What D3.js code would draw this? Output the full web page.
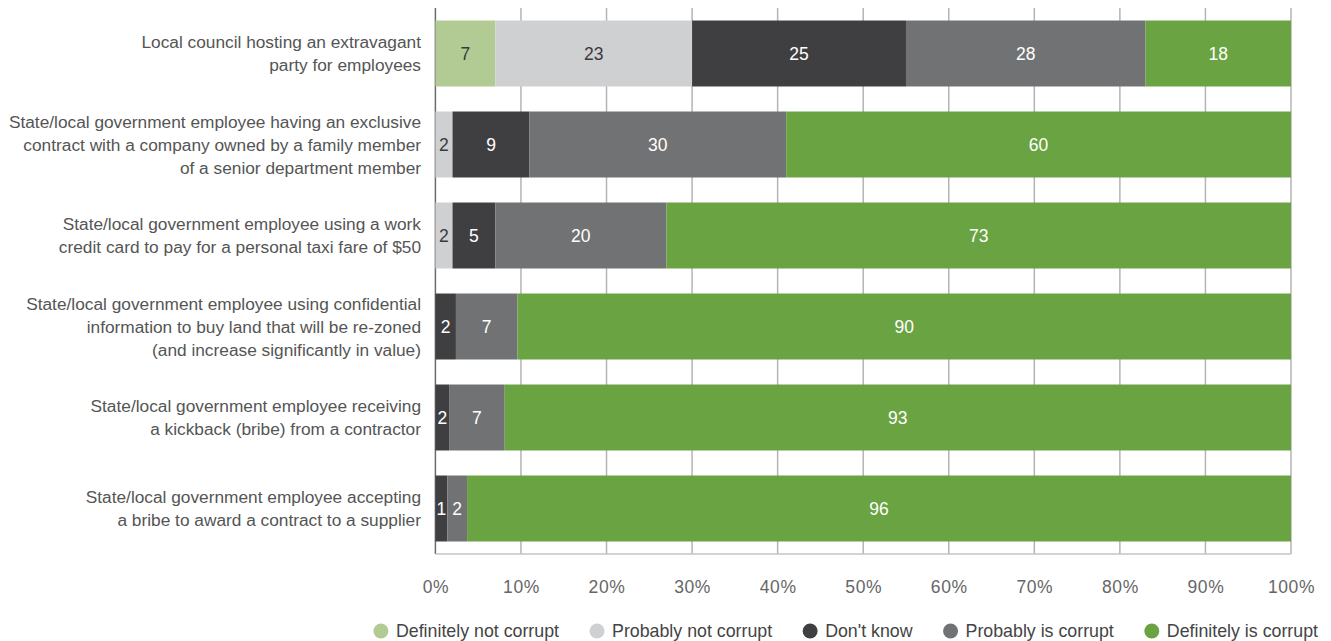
<!DOCTYPE html>
<html>
<head>
<meta charset="utf-8">
<script src="https://cdn.jsdelivr.net/npm/d3@7"></script>
<style>
  html, body { margin: 0; padding: 0; background: #fff; }
  svg { display: block; font-family: "Liberation Sans", Arial, Helvetica, sans-serif; }
</style>
</head>
<body>
<svg id="chart" width="1331" height="641"></svg>
<script>
// Survey items (label lines for each bar)
const categories = [
  ["Local council hosting an extravagant", "party for employees"],
  ["State/local government employee having an exclusive", "contract with a company owned by a family member", "of a senior department member"],
  ["State/local government employee using a work", "credit card to pay for a personal taxi fare of $50"],
  ["State/local government employee using confidential", "information to buy land that will be re-zoned", "(and increase significantly in value)"],
  ["State/local government employee receiving", "a kickback (bribe) from a contractor"],
  ["State/local government employee accepting", "a bribe to award a contract to a supplier"]
];

const seriesNames = ["Definitely not corrupt", "Probably not corrupt", "Don't know", "Probably is corrupt", "Definitely is corrupt"];

// Percent of respondents, one array per response, in category order
const definitelyNot = [7, 0, 0, 0, 0, 0];
const probablyNot   = [23, 2, 2, 0, 0, 0];
const dontKnow      = [25, 9, 5, 2.4, 1.6, 1.4];
const probablyIs    = [28, 30, 20, 7.2, 6.5, 2.3];
const definitelyIs  = [18, 60, 73, 90.4, 92.5, 96.3];

const xTicks = [0, 10, 20, 30, 40, 50, 60, 70, 80, 90, 100];

const colors = ["#b2ca93", "#cfd0d2", "#3f3f41", "#717274", "#6aa342"];
const labelColors = ["#3a3a3a", "#3a3a3a", "#ffffff", "#ffffff", "#ffffff"];

const seriesValues = [definitelyNot, probablyNot, dontKnow, probablyIs, definitelyIs];
const rows = categories.map((c, i) => {
  const r = { idx: i };
  seriesNames.forEach((s, k) => { r[s] = seriesValues[k][i]; });
  return r;
});

const svg = d3.select("#chart");
const plotLeft = 435.4, plotRight = 1291, plotTop = 8, plotBottom = 554;

const x = d3.scaleLinear().domain([0, 100]).range([plotLeft, plotRight]).clamp(true);
const y = d3.scaleBand().domain(d3.range(categories.length)).range([plotTop, plotBottom])
  .paddingInner(0.275).paddingOuter(0.1375);

// Vertical grid lines
const grid = svg.append("g");
grid.selectAll("line").data(xTicks).join("line")
  .attr("x1", d => x(d)).attr("x2", d => x(d))
  .attr("y1", plotTop).attr("y2", plotBottom)
  .attr("stroke", d => d === 0 ? "#6b6b6b" : "#b4b4b6")
  .attr("stroke-width", 1.5);
grid.append("line")
  .attr("x1", x(0)).attr("x2", x(100))
  .attr("y1", plotBottom).attr("y2", plotBottom)
  .attr("stroke", "#c4c4c6").attr("stroke-width", 1.5);

// Stacked bars
const stack = d3.stack().keys(seriesNames);
const layers = stack(rows);

const barG = svg.append("g");
layers.forEach((layer, k) => {
  const g = barG.append("g").attr("fill", colors[k]);
  const segs = layer.filter(d => d.data[seriesNames[k]] > 0);
  g.selectAll("rect").data(segs).join("rect")
    .attr("x", d => x(d[0]))
    .attr("y", d => y(d.data.idx))
    .attr("width", d => Math.max(0, x(d[1]) - x(d[0])))
    .attr("height", y.bandwidth());
  g.selectAll("text").data(segs).join("text")
    .attr("x", d => (x(d[0]) + x(d[1])) / 2)
    .attr("y", d => y(d.data.idx) + y.bandwidth() / 2)
    .attr("dy", "0.36em")
    .attr("text-anchor", "middle")
    .attr("font-size", 17.5)
    .attr("fill", labelColors[k])
    .text(d => Math.round(d.data[seriesNames[k]]));
});

// Category labels
const lineH = 23;
const catG = svg.append("g");
categories.forEach((lines, i) => {
  const cy = y(i) + y.bandwidth() / 2;
  const t = catG.append("text")
    .attr("text-anchor", "end")
    .attr("font-size", 17.3)
    .attr("fill", "#555");
  lines.forEach((ln, j) => {
    t.append("tspan")
      .attr("x", 421)
      .attr("y", cy + (j - (lines.length - 1) / 2) * lineH)
      .attr("dy", "0.36em")
      .text(ln);
  });
});

// X axis
const axis = d3.axisBottom(x).tickValues(xTicks).tickFormat(d => d + "%")
  .tickSize(0).tickPadding(27);
const axG = svg.append("g").attr("transform", `translate(0,${plotBottom})`).call(axis);
axG.select(".domain").remove();
axG.selectAll("text")
  .attr("font-size", 17.5)
  .attr("letter-spacing", 0.6)
  .attr("font-family", "\"Liberation Sans\", Arial, sans-serif")
  .attr("fill", "#666");

// Legend, right-aligned under the plot
const legG = svg.append("g");
const legY = 631;
const items = seriesNames.map((name, k) => {
  const g = legG.append("g");
  g.append("circle").attr("r", 7.5).attr("cx", 0).attr("cy", legY).attr("fill", colors[k]);
  const t = g.append("text").attr("x", 15).attr("y", legY).attr("dy", "0.36em")
    .attr("font-size", 17.8).attr("fill", "#444").text(name);
  return { g, w: 15 + t.node().getComputedTextLength() };
});
const gap = 38;
let pos = 1318;
for (let k = items.length - 1; k >= 0; k--) {
  pos -= items[k].w;
  items[k].g.attr("transform", `translate(${pos},0)`);
  pos -= gap;
}
</script>
</body>
</html>
